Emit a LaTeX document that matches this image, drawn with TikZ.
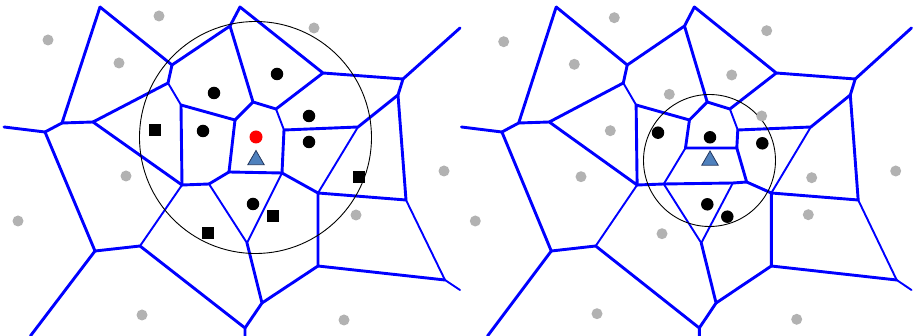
\documentclass[tikz,border=0pt]{standalone}
\usetikzlibrary{shapes.geometric}
\definecolor{vblue}{RGB}{0,0,255}
\definecolor{sgray}{RGB}{178,178,178}
\definecolor{qblue}{RGB}{79,129,189}
\definecolor{qedge}{RGB}{35,55,95}
\tikzset{
  vedge/.style={vblue, line width=2.9pt, line cap=round, line join=round},
  vthin/.style={vblue, line width=1.9pt, line cap=round, line join=round},
  gsite/.style={circle, fill=sgray, inner sep=0pt, minimum size=11pt},
  bsite/.style={circle, fill=black, inner sep=0pt, minimum size=12.5pt},
  rsite/.style={circle, fill=red, inner sep=0pt, minimum size=13pt},
  ssite/.style={rectangle, fill=black, inner sep=0pt, minimum size=11.5pt},
  qsite/.style={regular polygon, regular polygon sides=3, fill=qblue, draw=qedge, line width=0.8pt, inner sep=0pt, minimum size=19pt},
  qrange/.style={draw=black, line width=0.9pt},
}
% common Voronoi edges of both panels, prefix #1
\newcommand\vorcommon[1]{%
  \coordinate (#1A) at (100,7);
  \coordinate (#1B) at (62,123);
  \coordinate (#1C) at (45,132);
  \coordinate (#1D) at (93,122);
  \coordinate (#1E) at (95,251);
  \coordinate (#1F) at (140,246);
  \coordinate (#1G) at (182,185);
  \coordinate (#1H) at (245,328);
  \coordinate (#1I) at (262,303);
  \coordinate (#1J) at (247,243);
  \coordinate (#1K) at (318,266);
  \coordinate (#1L) at (318,193);
  \coordinate (#1AC) at (406,200);
  \coordinate (#1AD) at (445,280);
  \coordinate (#1AA) at (398,95);
  \coordinate (#1AB) at (403,79);
  \coordinate (#1X) at (323,73);
  \coordinate (#1U) at (240,7);
  \coordinate (#1T) at (230,26);
  \coordinate (#1S) at (172,65);
  \coordinate (#1R) at (168,83);
  \coordinate (#1P) at (181,105);
  \coordinate (#1Q) at (235,120);
  \coordinate (#1V) at (253,102);
  \coordinate (#1W) at (276,109);
  \coordinate (#1Y) at (284,130);
  \coordinate (#1Z) at (358,127);
  \coordinate (#1O) at (209,184);
  \coordinate (#1bl) at (4,127);
  \coordinate (#1bb1) at (30.4,336);
  \coordinate (#1bb2) at (245,336);
  \coordinate (#1br1) at (460,28);
  \coordinate (#1br2) at (460,290);
  \draw[vedge] (#1bl) -- (#1C) -- (#1B) -- (#1A);
  \draw[vedge] (#1B) -- (#1D);
  \draw[vedge] (#1C) -- (#1E) -- (#1bb1);
  \draw[vedge] (#1E) -- (#1F) -- (#1H) -- (#1bb2);
  \draw[vthin] (#1F) -- (#1G);
  \draw[vedge] (#1H) -- (#1I) -- (#1J);
  \draw[vedge] (#1I) -- (#1K) -- (#1L) -- (#1AC) -- (#1AA) -- (#1AB) -- (#1br1);
  \draw[vedge] (#1K) -- (#1AD);
  \draw[vthin] (#1AC) -- (#1AD) -- (#1br2);
  \draw[vedge] (#1AB) -- (#1X) -- (#1U) -- (#1T) -- (#1S) -- (#1A);
  \draw[vedge] (#1S) -- (#1R) -- (#1D) -- (#1G) -- (#1P) -- (#1Q) -- (#1V) -- (#1T);
  \draw[vthin] (#1R) -- (#1P);
  \draw[vedge] (#1V) -- (#1W) -- (#1X);
  \draw[vthin] (#1W) -- (#1Y);
  \draw[vedge] (#1Y) -- (#1Z) -- (#1AA);
  \draw[vthin] (#1Z) -- (#1L);
  \draw[vedge] (#1G) -- (#1O);
  \draw[vthin] (#1O) -- (#1J);
}
\begin{document}
\begin{tikzpicture}[x=1pt,y=-1pt]
\useasboundingbox (0,0) rectangle (914,336);
% ---------------- left panel ----------------
\vorcommon{l}
\coordinate (lN) at (229,172);
\coordinate (lM) at (282,173);
\draw[vedge] (lQ) -- (lN) -- (lM) -- (lY);
\draw[vedge] (lN) -- (lO);
\draw[vedge] (lM) -- (lL);
\draw[vthin] (lM) -- (lJ);
\node[qrange, circle, minimum size=232pt, inner sep=0pt] (lrange) at (255.5,137.5) {};
\node[gsite] (lg1) at (48,40) {};
\node[gsite] (lg2) at (159,16) {};
\node[gsite] (lg3) at (119,63) {};
\node[gsite] (lg4) at (314,28) {};
\node[gsite] (lg5) at (444,171) {};
\node[gsite] (lg6) at (126,176) {};
\node[gsite] (lg7) at (18,221) {};
\node[gsite] (lg8) at (142,315) {};
\node[gsite] (lg9) at (356,215) {};
\node[gsite] (lg10) at (344,320) {};
\node[bsite] (lb1) at (214,93) {};
\node[bsite] (lb2) at (277,74) {};
\node[bsite] (lb3) at (203,131) {};
\node[bsite] (lb4) at (309,116) {};
\node[bsite] (lb5) at (309,142) {};
\node[bsite] (lb6) at (253,204) {};
\node[rsite] (lred) at (256,137) {};
\node[ssite] (ls1) at (155,130) {};
\node[ssite] (ls2) at (359,177) {};
\node[ssite] (ls3) at (273,216) {};
\node[ssite] (ls4) at (208,233) {};
\node[qsite] (lq) at (256,160) {};
% ---------------- right panel ----------------
\begin{scope}[shift={(457.5,0)}, xscale=0.987]
\vorcommon{r}
\coordinate (rA1) at (231,148);
\coordinate (rB1) at (283,148);
\coordinate (rF1) at (279,183);
\coordinate (rE1) at (293,182);
\draw[vedge] (rQ) -- (rA1) -- (rB1) -- (rY);
\draw[vthin] (rA1) -- (rO);
\draw[vedge] (rB1) -- (rE1) -- (rL);
\draw[vedge] (rO) -- (rF1) -- (rE1);
\draw[vthin] (rF1) -- (rJ);
\end{scope}
\node[qrange, circle, minimum size=132pt, inner sep=0pt] (rrange) at (709.5,160.5) {};
\node[gsite] (rg1) at (503.7,41.7) {};
\node[gsite] (rg2) at (614.3,17.7) {};
\node[gsite] (rg3) at (574.3,64.3) {};
\node[gsite] (rg4) at (669.3,94.3) {};
\node[gsite] (rg5) at (610.3,130.7) {};
\node[gsite] (rg6) at (766.7,30.7) {};
\node[gsite] (rg7) at (731.7,75) {};
\node[gsite] (rg8) at (761.7,116) {};
\node[gsite] (rg9) at (581,176.7) {};
\node[gsite] (rg10) at (475.3,221) {};
\node[gsite] (rg11) at (662,233.7) {};
\node[gsite] (rg12) at (597,313.7) {};
\node[gsite] (rg13) at (811.7,177.7) {};
\node[gsite] (rg14) at (895.7,171) {};
\node[gsite] (rg15) at (808.3,214.7) {};
\node[gsite] (rg16) at (796.7,319.3) {};
\node[bsite] (rb1) at (658,132.7) {};
\node[bsite] (rb2) at (710,137.3) {};
\node[bsite] (rb3) at (762.3,143.3) {};
\node[bsite] (rb4) at (707.3,204.3) {};
\node[bsite] (rb5) at (727.3,216.7) {};
\node[qsite] (rq) at (710,160.5) {};
\end{tikzpicture}
\end{document}
